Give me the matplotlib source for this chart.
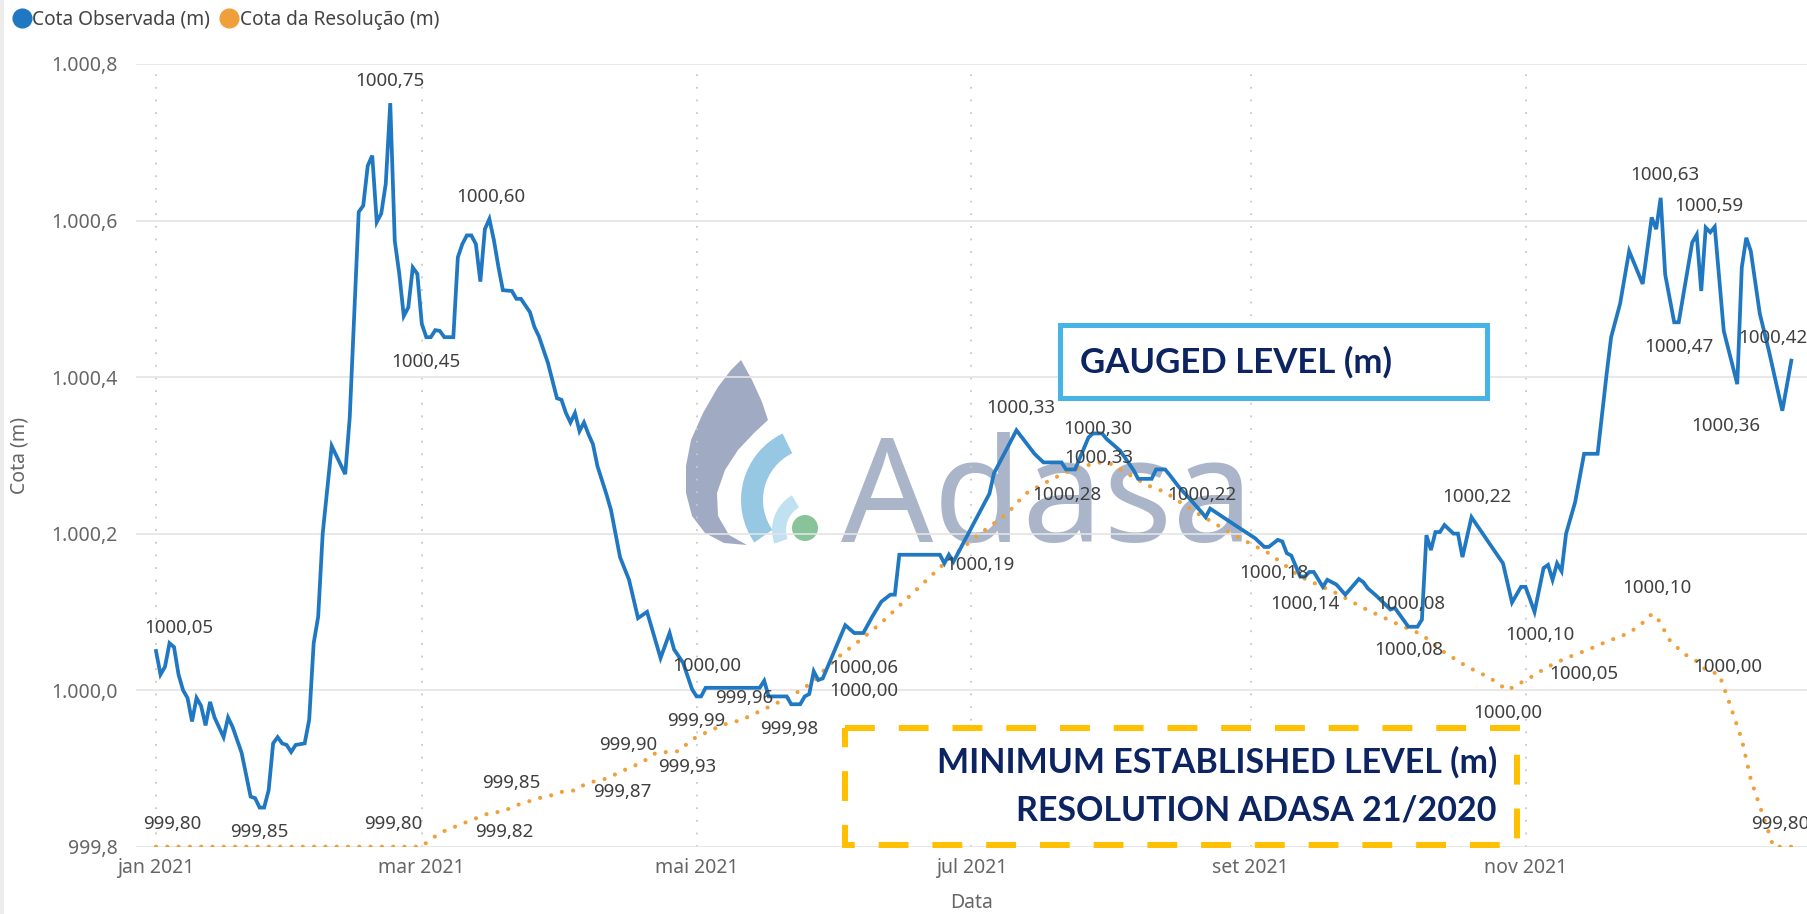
import matplotlib
matplotlib.use("Agg")
import matplotlib.pyplot as plt
import matplotlib.dates as mdates
import numpy as np
from matplotlib.lines import Line2D
from matplotlib.patches import Polygon, Wedge, Circle, Rectangle

# Cota Observada (m) - vertices of the gauged line, days after 2021-01-01
obs_day = [0, 1, 2, 3, 4, 5, 6, 7, 8, 9, 10, 11, 12, 13, 15, 16, 17, 19, 21, 22,
           23, 24, 25, 26, 27, 28, 29, 30, 31, 33, 34, 35, 36, 37, 39, 42, 43, 45, 46, 47,
           48, 49, 50, 51, 52, 53, 54, 55, 56, 57, 58, 59, 60, 61, 62, 63, 64, 66, 67, 68,
           69, 70, 71, 72, 73, 74, 75, 76, 77, 79, 80, 81, 83, 84, 85, 87, 89, 90, 91, 92,
           93, 94, 95, 96, 97, 98, 100, 101, 103, 105, 107, 109, 112, 114, 115, 117, 119, 120, 121, 122,
           132, 134, 135, 136, 140, 141, 143, 144, 145, 146, 147, 148, 151, 153, 155, 157, 159, 161, 163, 164,
           165, 174, 175, 176, 177, 185, 186, 191, 195, 197, 201, 202, 204, 207, 208, 210, 211, 214, 217, 218,
           221, 222, 224, 225, 227, 230, 232, 233, 234, 240, 244, 246, 247, 249, 250, 251, 252, 254, 255, 256,
           257, 259, 260, 262, 264, 267, 268, 269, 271, 274, 275, 278, 280, 281, 282, 283, 284, 285, 286, 288,
           289, 290, 292, 299, 301, 303, 304, 306, 308, 309, 310, 311, 312, 313, 315, 317, 320, 322, 323, 325,
           327, 330, 332, 333, 334, 335, 337, 338, 341, 342, 343, 344, 345, 346, 348, 351, 352, 353, 354, 356,
           358, 361, 363]
obs_val = [1000.05, 1000.02, 1000.03, 1000.06, 1000.055, 1000.02, 1000.00, 999.99, 999.96, 999.99,
           999.98, 999.955, 999.985, 999.965, 999.94, 999.965, 999.953, 999.92, 999.864, 999.862,
           999.85, 999.85, 999.872, 999.932, 999.94, 999.932, 999.93, 999.921, 999.93, 999.932,
           999.962, 1000.06, 1000.094, 1000.20, 1000.312, 1000.276, 1000.348, 1000.611, 1000.619, 1000.670,
           1000.683, 1000.598, 1000.609, 1000.647, 1000.75, 1000.574, 1000.532, 1000.478, 1000.489, 1000.540,
           1000.532, 1000.468, 1000.451, 1000.451, 1000.46, 1000.459, 1000.451, 1000.451, 1000.553, 1000.57,
           1000.581, 1000.581, 1000.57, 1000.522, 1000.589, 1000.602, 1000.575, 1000.541, 1000.511, 1000.51,
           1000.50, 1000.50, 1000.483, 1000.464, 1000.452, 1000.418, 1000.373, 1000.371, 1000.354, 1000.342,
           1000.354, 1000.331, 1000.342, 1000.327, 1000.314, 1000.286, 1000.25, 1000.23, 1000.17, 1000.141,
           1000.092, 1000.10, 1000.041, 1000.073, 1000.052, 1000.035, 1000.001, 999.992, 999.992, 1000.003,
           1000.003, 1000.003, 1000.012, 999.992, 999.992, 999.982, 999.982, 999.992, 999.995, 1000.024,
           1000.013, 1000.015, 1000.056, 1000.083, 1000.073, 1000.073, 1000.094, 1000.113, 1000.122, 1000.122,
           1000.173, 1000.173, 1000.162, 1000.173, 1000.164, 1000.251, 1000.277, 1000.332, 1000.302, 1000.291,
           1000.291, 1000.282, 1000.282, 1000.323, 1000.328, 1000.328, 1000.321, 1000.306, 1000.281, 1000.270,
           1000.270, 1000.282, 1000.282, 1000.275, 1000.26, 1000.241, 1000.228, 1000.221, 1000.232, 1000.209,
           1000.194, 1000.183, 1000.183, 1000.192, 1000.190, 1000.175, 1000.172, 1000.145, 1000.145, 1000.151,
           1000.151, 1000.132, 1000.141, 1000.135, 1000.122, 1000.142, 1000.138, 1000.130, 1000.120, 1000.103,
           1000.105, 1000.081, 1000.081, 1000.090, 1000.198, 1000.179, 1000.202, 1000.202, 1000.211, 1000.20,
           1000.20, 1000.170, 1000.221, 1000.162, 1000.112, 1000.132, 1000.132, 1000.100, 1000.156, 1000.16,
           1000.141, 1000.162, 1000.152, 1000.20, 1000.24, 1000.302, 1000.302, 1000.404, 1000.451, 1000.494,
           1000.561, 1000.519, 1000.604, 1000.589, 1000.629, 1000.531, 1000.470, 1000.470, 1000.572, 1000.582,
           1000.510, 1000.591, 1000.585, 1000.592, 1000.459, 1000.391, 1000.540, 1000.578, 1000.561, 1000.481,
           1000.434, 1000.357, 1000.421]

# Cota da Resolução (m) - minimum level set by the resolution
res_day = [0, 59, 61, 64, 70, 74, 77, 80, 85, 88, 90, 93, 95, 97, 100, 104, 108, 111, 116, 119,
           121, 126, 130, 134, 138, 141, 143, 146, 149, 152, 155, 161, 168, 175, 182, 189, 193, 199, 203, 209,
           212, 217, 220, 224, 230, 235, 240, 247, 254, 262, 268, 275, 281, 285, 291, 296, 300, 305, 309, 313,
           318, 322, 327, 330, 332, 333, 336, 339, 342, 344, 347, 349, 352, 354, 356, 358, 359, 364]
res_val = [999.80, 999.80, 999.81, 999.82, 999.834, 999.843, 999.845, 999.853, 999.862, 999.866,
           999.870, 999.872, 999.879, 999.883, 999.887, 999.898, 999.908, 999.920, 999.922, 999.937,
           999.943, 999.956, 999.962, 999.973, 999.984, 999.992, 1000.00, 1000.011, 1000.030, 1000.045,
           1000.058, 1000.086, 1000.124, 1000.162, 1000.196, 1000.226, 1000.251, 1000.270, 1000.281, 1000.291,
           1000.289, 1000.272, 1000.262, 1000.253, 1000.230, 1000.213, 1000.196, 1000.175, 1000.145, 1000.124,
           1000.105, 1000.086, 1000.071, 1000.052, 1000.030, 1000.016, 1000.00, 1000.016, 1000.030, 1000.041,
           1000.052, 1000.062, 1000.073, 1000.086, 1000.097, 1000.095, 1000.064, 1000.047, 1000.037, 1000.026,
           1000.020, 999.988, 999.937, 999.886, 999.852, 999.818, 999.80, 999.80]

tick_dates = ["2021-01-01", "2021-03-01", "2021-05-01", "2021-07-01", "2021-09-01", "2021-11-01"]
tick_labels = ["jan 2021", "mar 2021", "mai 2021", "jul 2021", "set 2021", "nov 2021"]
y_ticks = [999.8, 1000.0, 1000.2, 1000.4, 1000.6, 1000.8]
y_labels = ["999,8", "1.000,0", "1.000,2", "1.000,4", "1.000,6", "1.000,8"]

# data labels as shown on the chart, with the series and day they belong to
lbl_text = ["1000,05", "999,80", "999,85", "1000,75", "1000,45", "999,80", "999,82", "999,85",
            "1000,60", "999,87", "999,90", "999,93", "999,99", "1000,00", "999,96", "999,98",
            "1000,06", "1000,00", "1000,19", "1000,33", "1000,30", "1000,33", "1000,28", "1000,22",
            "1000,18", "1000,14", "1000,08", "1000,08", "1000,22", "1000,10", "1000,00", "1000,05",
            "1000,10", "1000,00", "999,80", "1000,63", "1000,59", "1000,47", "1000,42", "1000,36"]
lbl_series = ["obs", "res", "obs", "obs", "obs", "res", "res", "res",
              "obs", "res", "res", "res", "obs", "obs", "res", "obs",
              "obs", "obs", "obs", "obs", "obs", "res", "res", "obs",
              "res", "res", "obs", "res", "obs", "obs", "res", "res",
              "res", "res", "res", "obs", "obs", "obs", "obs", "obs"]
lbl_day = [3, 0, 23, 52, 60, 59, 78, 78,
           74, 104, 104, 119, 120, 122, 130, 142,
           151, 151, 177, 191, 208, 209, 203, 233,
           247, 254, 278, 278, 292, 306, 300, 318,
           332, 347, 359, 334, 346, 338, 363, 361]
# label placement (pixels from the labelled point, +y up)
lbl_off = [(9, 15), (16, 23), (0, -24), (0, 22), (0, -25), (-29, 23), (-3, -23), (4, 26),
           (1, 22), (-2, -22), (4, 25), (-5, -28), (0, -25), (1, 22), (3, 22), (-6, -25),
           (28, -22), (28, -45), (27, -3), (4, 22), (5, 4), (1, 4), (-4, -25), (-4, 22),
           (5, -20), (5, -27), (2, 23), (0, -21), (5, 20), (5, -23), (0, -23), (-5, -25),
           (5, 26), (9, 8), (7, 23), (4, 23), (-6, 21), (0, -25), (-18, 23), (-56, -15)]

BLUE = "#1f78c1"
ORANGE = "#f0a03a"
NAVY = "#0c2461"

plt.rcParams["font.family"] = ["Noto Sans", "DejaVu Sans"]

W, H = 1808, 914
fig = plt.figure(figsize=(W / 100, H / 100), dpi=100)
fig.patch.set_facecolor("white")

# watermark layer (pixel coordinates, y down)
wm = fig.add_axes([0, 0, 1, 1], zorder=0)
wm.set_xlim(0, W)
wm.set_ylim(H, 0)
wm.axis("off")
drop = [(741, 360), (752, 380), (762, 402), (768, 420), (754, 433), (738, 450), (725, 470),
        (717, 493), (718, 516), (729, 535), (747, 545), (724, 543), (705, 533), (692, 516),
        (686, 493), (686, 466), (691, 440), (703, 413), (718, 387), (731, 370)]
wm.add_patch(Polygon(drop, closed=True, facecolor="#a0aac3", edgecolor="none"))
wm.add_patch(Wedge((815, 500), 74, 145, 244, width=22, facecolor="#96c7e3", edgecolor="none"))
wm.add_patch(Wedge((812, 530), 40, 160, 240, width=14, facecolor="#c0e1f1", edgecolor="none"))
wm.add_patch(Circle((805, 528), 13, facecolor="#88c39a", edgecolor="none"))
wm.text(841, 542, "Adasa", fontsize=104, color="#abb5ca", ha="left", va="baseline")
wm.add_patch(Rectangle((0, 0), 4, H, facecolor="#ececec", edgecolor="none"))

# main chart
ax = fig.add_axes([136 / W, 1 - 846.7 / H, (W - 136) / W, (846.7 - 64) / H], zorder=1)
ax.set_facecolor("none")
base = mdates.datestr2num("2021-01-01")
obs_x = base + np.array(obs_day, dtype=float)
res_x = base + np.array(res_day, dtype=float)

ax.plot(res_x, res_val, color=ORANGE, lw=3.0, linestyle=(0, (0.01, 2.7)),
        dash_capstyle="round", zorder=3)
ax.plot(obs_x, obs_val, color=BLUE, lw=2.7, solid_joinstyle="miter", zorder=4)

ax.set_xlim(base - 4.44, base + 366.7)
ax.set_ylim(999.8, 1000.8)
ax.set_yticks(y_ticks)
ax.set_yticklabels(y_labels)
ax.set_xticks([mdates.datestr2num(d) for d in tick_dates])
ax.set_xticklabels(tick_labels)
ax.tick_params(length=0, labelsize=14, labelcolor="#666666")
ax.tick_params(axis="y", pad=13)
ax.tick_params(axis="x", pad=8)
for s in ax.spines.values():
    s.set_visible(False)
ax.grid(axis="y", color="#e4e4e4", lw=1.2, zorder=0)
ax.grid(axis="x", color="#c8c8c8", lw=1.3, linestyle=(0, (1, 6)), zorder=0)
ax.set_ylabel("Cota (m)", fontsize=14, color="#666666", va="center")
ax.yaxis.set_label_coords(-0.0694, 0.5)
ax.set_xlabel("Data", fontsize=14, color="#666666", va="center")
ax.xaxis.set_label_coords(0.5, -0.072)

series = {"obs": (obs_day, obs_val), "res": (res_day, res_val)}
for txt, key, d, off in zip(lbl_text, lbl_series, lbl_day, lbl_off):
    days, vals = series[key]
    v = np.interp(d, days, vals)
    ax.annotate(txt, xy=(base + d, v), xytext=off, textcoords="offset pixels",
                ha="center", va="center", fontsize=13.5, color="#404040", zorder=6,
                annotation_clip=False)

# legend
handles = [Line2D([], [], marker="o", ls="none", color=BLUE, markersize=13.5),
           Line2D([], [], marker="o", ls="none", color=ORANGE, markersize=13.5)]
fig.legend(handles, ["Cota Observada (m)", "Cota da Resolução (m)"], loc="upper left",
           bbox_to_anchor=(14 / W, 1 - 10 / H), ncol=2, frameon=False, fontsize=13.8,
           handlelength=0.8, handletextpad=0.15, columnspacing=0.6, borderaxespad=0,
           borderpad=0, labelcolor="#444444")

# callout boxes on top
ov = fig.add_axes([0, 0, 1, 1], zorder=3)
ov.set_xlim(0, W)
ov.set_ylim(H, 0)
ov.axis("off")
ov.patch.set_alpha(0)
ov.add_patch(Rectangle((1060, 325), 427, 73, facecolor="white", edgecolor="#47b4e6", lw=3.6))
ov.text(1080, 362, "GAUGED LEVEL (m)", family=["Lato", "DejaVu Sans"], weight="bold",
        fontsize=25, color=NAVY, ha="left", va="center")
ov.add_patch(Rectangle((845, 728), 672, 117, facecolor="white", edgecolor="#ffc000", lw=4.3,
                       linestyle=(0, (5, 4))))
ov.text(1497, 762, "MINIMUM ESTABLISHED LEVEL (m)", family=["Lato", "DejaVu Sans"],
        weight="bold", fontsize=24.5, color=NAVY, ha="right", va="center")
ov.text(1497, 810, "RESOLUTION ADASA 21/2020", family=["Lato", "DejaVu Sans"],
        weight="bold", fontsize=24.5, color=NAVY, ha="right", va="center")

fig.savefig("out.png", dpi=100)
